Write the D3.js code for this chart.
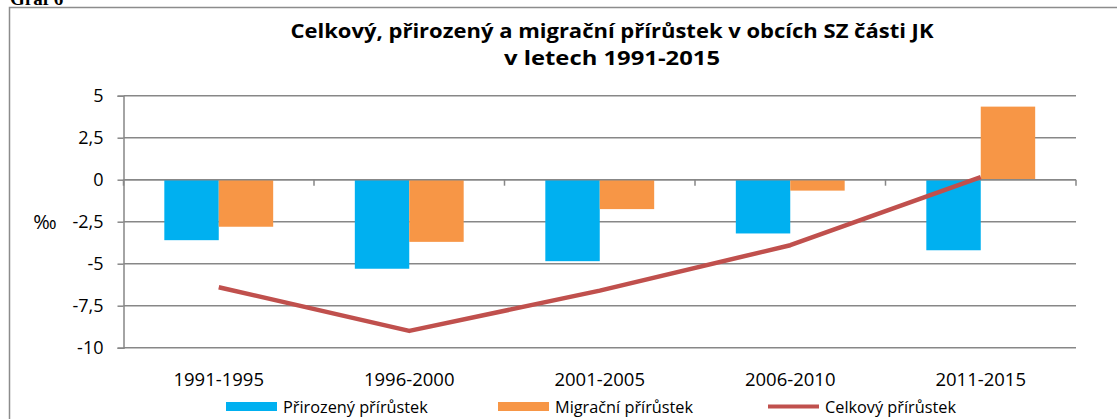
<!DOCTYPE html>
<html><head><meta charset="utf-8">
<script src="https://cdn.jsdelivr.net/npm/d3@7"></script>
<style>
html,body{margin:0;padding:0;background:#fff;}
text{font-family:"Open Sans", Lato, sans-serif;fill:#000;}
</style></head>
<body>
<svg id="chart" width="1117" height="419"></svg>
<script>
const categories = ["1991-1995","1996-2000","2001-2005","2006-2010","2011-2015"];
const natural   = [-3.6, -5.3, -4.85, -3.2, -4.2];
const migration = [-2.8, -3.7, -1.75, -0.65, 4.35];
const total     = [-6.4, -9.0, -6.6, -3.9, 0.15];
const yTicks = [5, 2.5, 0, -2.5, -5, -7.5, -10];
const seriesNames = ["Přirozený přírůstek","Migrační přírůstek","Celkový přírůstek"];
const titleLines = ["Celkový, přirozený a migrační přírůstek v obcích SZ části JK","v letech 1991-2015"];

const colors = {nat:"#00B0F0", mig:"#F79646", tot:"#C0504D", grid:"#878787"};
const svg = d3.select("#chart");
svg.append("rect").attr("width",1117).attr("height",419).attr("fill","#fff");

// caption above (clipped, as in the reference)
svg.append("text").attr("x",10).attr("y",5)
  .style("font-family","'Liberation Serif', serif").style("font-weight","bold").style("font-size","19px")
  .text("Graf 6");

// outer border
svg.append("rect").attr("x",9.5).attr("y",7.5).attr("width",1200).attr("height",500)
  .attr("fill","none").attr("stroke","#8c8c8c").attr("stroke-width",1.5);

const L=123.5, R=1076, T=95.7, B=347.7;
const y = d3.scaleLinear().domain([-10,5]).range([B,T]);
const x = d3.scaleBand().domain(categories).range([L,R]);
const inner = d3.scaleBand().domain(["nat","mig"]).range([0,x.bandwidth()]).paddingOuter(0.75).paddingInner(0);

// title (two lines)
const titleWidths = [643, 216];
svg.append("text").attr("text-anchor","middle").style("font-weight","bold").style("font-size","20px")
  .selectAll("tspan").data(titleLines).join("tspan")
  .attr("x",612).attr("y",(d,i)=>37.5+i*27.5)
  .attr("textLength",(d,i)=>titleWidths[i]).attr("lengthAdjust","spacingAndGlyphs")
  .text(d=>d);

// gridlines
svg.append("g").selectAll("line").data(yTicks).join("line")
  .attr("x1",L).attr("x2",R).attr("y1",d=>y(d)).attr("y2",d=>y(d))
  .attr("stroke",colors.grid).attr("stroke-width",1.5);

// y axis
const fmt = d => String(d).replace(".",",");
const yAxis = d3.axisLeft(y).tickValues(yTicks).tickSize(6).tickPadding(14).tickFormat(fmt);
const gy = svg.append("g").attr("transform",`translate(${L},0)`).call(yAxis);
gy.select(".domain").attr("stroke",colors.grid).attr("stroke-width",1.5);
gy.selectAll(".tick line").attr("stroke",colors.grid).attr("stroke-width",1.5);
gy.selectAll(".tick text").style("font-size","18px").style("font-family","'Open Sans', sans-serif").attr("fill","#000");

// ‰ label
svg.append("text").attr("x",45).attr("y",y(-2.5)+7).attr("text-anchor","middle")
  .style("font-size","20px").text("‰");

// bars
const g = svg.append("g");
categories.forEach((c,i)=>{
  [["nat",natural[i]],["mig",migration[i]]].forEach(([k,v])=>{
    g.append("rect")
      .attr("x",x(c)+inner(k)).attr("width",inner.bandwidth())
      .attr("y",y(Math.max(0,v))).attr("height",Math.abs(y(v)-y(0)))
      .attr("fill",colors[k]);
  });
});

// x axis at zero with boundary ticks
const y0 = y(0);
svg.append("line").attr("x1",L).attr("x2",R).attr("y1",y0).attr("y2",y0)
  .attr("stroke",colors.grid).attr("stroke-width",1.5);
const bounds = categories.map(c=>x(c)).concat([R]);
svg.append("g").selectAll("line").data(bounds).join("line")
  .attr("x1",d=>d).attr("x2",d=>d).attr("y1",y0).attr("y2",y0+6)
  .attr("stroke",colors.grid).attr("stroke-width",1.5);

// line
const line = d3.line().x((d,i)=>x(categories[i])+x.bandwidth()/2).y(d=>y(d));
svg.append("path").datum(total).attr("d",line).attr("fill","none")
  .attr("stroke",colors.tot).attr("stroke-width",4.5).attr("stroke-linejoin","round");

// x labels
svg.append("g").selectAll("text").data(categories).join("text")
  .attr("x",d=>x(d)+x.bandwidth()/2).attr("y",386).attr("text-anchor","middle")
  .style("font-size","18.5px").text(d=>d);

// legend
const legX = [226, 498, 768];
const legKeys = ["nat","mig","tot"];
const lg = svg.append("g");
legKeys.forEach((k,i)=>{
  if(k==="tot"){
    lg.append("line").attr("x1",legX[i]).attr("x2",legX[i]+51).attr("y1",406.5).attr("y2",406.5)
      .attr("stroke",colors.tot).attr("stroke-width",4);
  } else {
    lg.append("rect").attr("x",legX[i]).attr("y",402).attr("width",51).attr("height",9).attr("fill",colors[k]);
  }
  lg.append("text").attr("x",legX[i]+57).attr("y",413).style("font-size","16.3px").text(seriesNames[i]);
});
</script>
</body></html>
